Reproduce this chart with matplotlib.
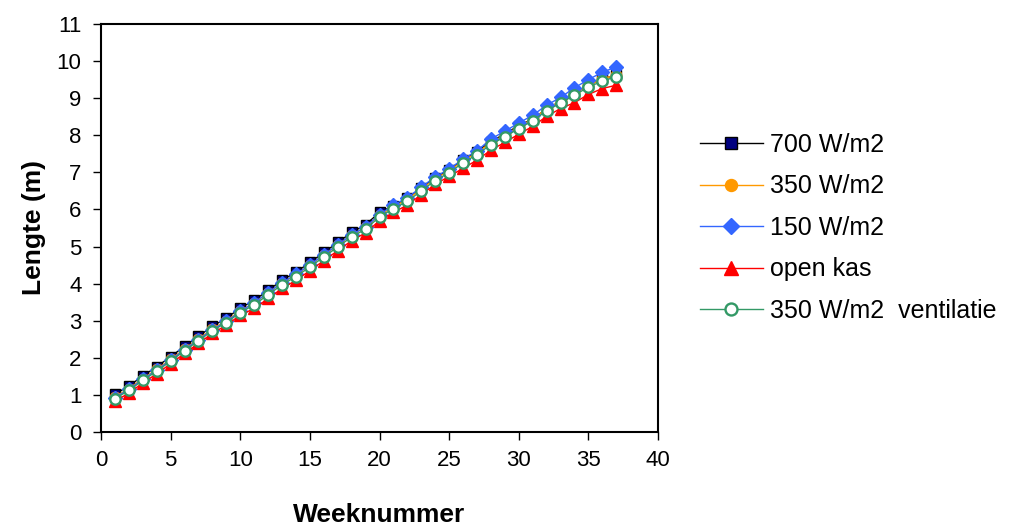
import numpy as np
from matplotlib import pyplot as plt

plt.rcParams['font.family'] = ['Liberation Sans', 'DejaVu Sans']

weeks = list(range(1, 38))

w700 = [1.02, 1.24, 1.51, 1.76, 2.03, 2.31, 2.58, 2.85, 3.07, 3.34,
        3.55, 3.82, 4.09, 4.31, 4.57, 4.84, 5.11, 5.38, 5.59, 5.92,
        6.10, 6.30, 6.58, 6.86, 7.07, 7.34, 7.56, 7.83, 8.04, 8.26,
        8.44, 8.71, 8.92, 9.13, 9.35, 9.51, 9.63]
w350 = [0.95, 1.17, 1.44, 1.69, 1.96, 2.24, 2.51, 2.78, 3.00, 3.27,
        3.48, 3.75, 4.02, 4.24, 4.50, 4.77, 5.04, 5.31, 5.52, 5.85,
        6.07, 6.27, 6.55, 6.83, 7.04, 7.31, 7.53, 7.80, 8.01, 8.23,
        8.44, 8.71, 8.92, 9.13, 9.35, 9.51, 9.63]
w150 = [0.93, 1.15, 1.42, 1.67, 1.94, 2.22, 2.49, 2.76, 2.98, 3.25,
        3.49, 3.76, 4.03, 4.25, 4.51, 4.78, 5.05, 5.32, 5.53, 5.86,
        6.12, 6.32, 6.60, 6.88, 7.09, 7.36, 7.58, 7.90, 8.11, 8.33,
        8.54, 8.81, 9.02, 9.28, 9.50, 9.70, 9.84]
open_kas = [0.83, 1.05, 1.32, 1.57, 1.84, 2.12, 2.39, 2.66, 2.88, 3.15,
            3.33, 3.60, 3.87, 4.09, 4.35, 4.62, 4.89, 5.16, 5.37, 5.70,
            5.92, 6.12, 6.40, 6.68, 6.89, 7.11, 7.33, 7.60, 7.81, 8.03,
            8.24, 8.51, 8.72, 8.88, 9.10, 9.26, 9.35]
w350_vent = [0.90, 1.12, 1.39, 1.64, 1.91, 2.19, 2.46, 2.73, 2.95, 3.22,
             3.43, 3.70, 3.97, 4.19, 4.45, 4.72, 4.99, 5.26, 5.47, 5.80,
             6.02, 6.22, 6.50, 6.78, 6.99, 7.26, 7.48, 7.75, 7.96, 8.18,
             8.39, 8.66, 8.87, 9.08, 9.30, 9.46, 9.58]

fig = plt.figure(figsize=(10.1, 5.26), dpi=100)
ax = fig.add_axes([0.1, 0.1787, 0.5515, 0.7757])

ax.plot(weeks, w700, color='black', marker='s', markersize=7,
        markerfacecolor='#000080', markeredgecolor='black', lw=1, label='700 W/m2')
ax.plot(weeks, w350, color='#FF9900', marker='o', markersize=7.5,
        markeredgecolor='#FF9900', lw=1, label='350 W/m2')
ax.plot(weeks, w150, color='#3366FF', marker='D', markersize=7,
        markeredgecolor='#3366FF', lw=1, label='150 W/m2')
ax.plot(weeks, open_kas, color='#FF0000', marker='^', markersize=8.5,
        markeredgecolor='#FF0000', lw=1, label='open kas')
ax.plot(weeks, w350_vent, color='#339966', marker='o', markersize=7.5,
        markerfacecolor='white', markeredgecolor='#339966', markeredgewidth=1.7,
        lw=1, label='350 W/m2  ventilatie')

ax.set_xlim(0, 40)
ax.set_ylim(0, 11)
ax.set_xticks(range(0, 41, 5))
ax.set_yticks(range(0, 12))
ax.tick_params(direction='out', length=6, width=1, labelsize=16, colors='black')
ax.tick_params(axis='y', pad=8)
ax.tick_params(axis='x', pad=7)
for s in ax.spines.values():
    s.set_linewidth(1.5)

ax.set_xlabel('Weeknummer', fontsize=19, fontweight='bold', labelpad=23)
ax.set_ylabel('Lengte (m)', fontsize=19, fontweight='bold', labelpad=8)

ax.legend(loc='center left', bbox_to_anchor=(1.035, 0.5), frameon=False,
          fontsize=18, handlelength=2.5, labelspacing=0.7, handletextpad=0.3,
          markerscale=1.15)

plt.savefig('out.png', dpi=100)
